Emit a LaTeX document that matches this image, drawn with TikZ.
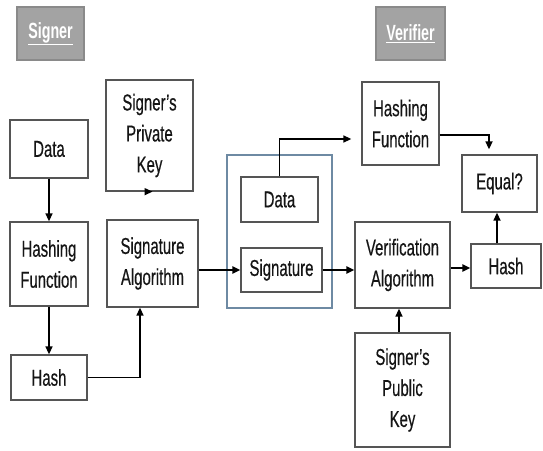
\documentclass[tikz,border=0pt]{standalone}
\usepackage{fontspec}
\setmainfont{Liberation Sans}[FakeStretch=0.65, UprightFeatures={FakeBold=0.4}]
\usetikzlibrary{arrows.meta,calc}
\definecolor{boxline}{HTML}{555555}
\definecolor{outerline}{HTML}{6E8AA3}
\definecolor{lblfill}{HTML}{A3A3A3}
\definecolor{lblline}{HTML}{8A8A8A}
\definecolor{txt}{HTML}{151515}
\tikzset{
  box/.style={draw=boxline, line width=1.3pt, fill=white, inner sep=0pt, align=center,
    text=txt, font=\fontsize{23}{31}\selectfont},
  lbl/.style={draw=lblline, line width=1.2pt, fill=lblfill, inner sep=0pt, align=center,
    text=white, font=\fontsize{22}{26}\selectfont\bfseries},
  arr/.style={draw=black, line width=1.6pt, -{Triangle[length=8pt,width=7pt]}},
  tarr/.style={arr, line width=2.6pt},
}
\begin{document}
\begin{tikzpicture}[x=1pt,y=-1pt]
\useasboundingbox[fill=white] (0,0) rectangle (543,450);
% labels
\node[lbl, minimum width=67pt, minimum height=53pt] (signer) at (50.5,33.5) {\underline{Signer}};
\node[lbl, minimum width=69pt, minimum height=53pt] (verifier) at (410.5,33.5) {\underline{Verifier}};
% signer side
\node[box, minimum width=78pt, minimum height=58pt] (data1) at (49,149) {Data};
\node[box, minimum width=78pt, minimum height=84pt] (hfn1) at (49,264) {Hashing\\Function};
\node[box, minimum width=76pt, minimum height=45pt] (hash1) at (49,377.5) {Hash};
\node[box, minimum width=87pt, minimum height=111pt] (priv) at (149.5,135.5) {Signer's\\Private\\Key};
\node[box, minimum width=91pt, minimum height=87pt] (salg) at (152.5,263.5) {Signature\\Algorithm};
% middle
\node[draw=outerline, line width=1.4pt, minimum width=105pt, minimum height=153pt, inner sep=0pt] (outer) at (279.5,231.5) {};
\node[box, minimum width=77pt, minimum height=45pt] (data2) at (279.5,199.5) {Data};
\node[box, minimum width=81pt, minimum height=44pt] (sig) at (281.5,270) {Signature};
% verifier side
\node[box, minimum width=77pt, minimum height=83pt] (hfn2) at (400.5,123.5) {Hashing\\Function};
\node[box, minimum width=95pt, minimum height=86pt] (valg) at (402.5,265) {Verification\\Algorithm};
\node[box, minimum width=75pt, minimum height=57pt] (equal) at (499.5,183.5) {Equal?};
\node[box, minimum width=70pt, minimum height=44pt] (hash2) at (506,266) {Hash};
\node[box, minimum width=95pt, minimum height=114pt] (pub) at (402.5,390) {Signer's\\Public\\Key};
% connectors
\draw[arr] (data1.south) -- (hfn1.north);
\draw[arr] (hfn1.south) -- (hash1.north);
\draw[arr] ([xshift=2.5pt]priv.south) -- (priv.south -| salg.north);
\draw[arr] (hash1.east) -| ([xshift=-12.5pt]salg.south);
\draw[tarr] (sig.west -| salg.east) -- (sig.west);
\draw[tarr] (sig.east) -- (sig.east -| valg.west);
\draw[arr, shorten >=10pt] (data2.north) |- ([yshift=-15.5pt]hfn2.west);
\draw[arr, shorten >=5pt] ([yshift=-11.5pt]hfn2.east) -| ([xshift=-10.5pt]equal.north);
\draw[tarr] ([yshift=-3pt]valg.east) -- ([yshift=-3pt]valg.east -| hash2.west);
\draw[arr] ([xshift=-9pt]hash2.north) -- ([xshift=-9pt]hash2.north |- equal.south);
\draw[arr] ([xshift=-3.5pt]pub.north) -- ([xshift=-3.5pt]valg.south);
\end{tikzpicture}
\end{document}
